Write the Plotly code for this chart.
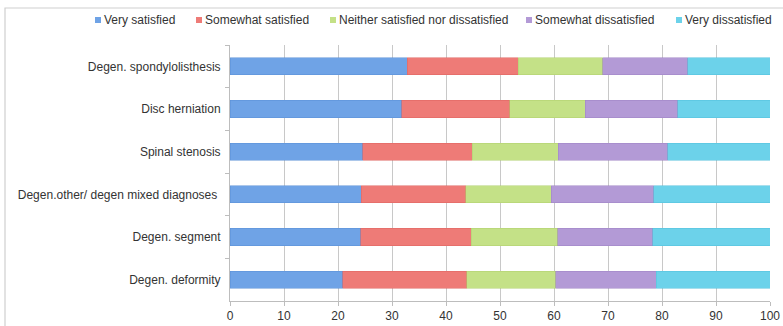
import plotly.graph_objects as go

categories = ["Degen. spondylolisthesis", "Disc herniation", "Spinal stenosis",
              "Degen.other/ degen mixed diagnoses ", "Degen. segment", "Degen. deformity"]
series_names = ["Very satisfied", "Somewhat satisfied", "Neither satisfied nor dissatisfied",
                "Somewhat dissatisfied", "Very dissatisfied"]
very_satisfied = [32.8, 31.8, 24.6, 24.3, 24.2, 20.9]
somewhat_satisfied = [20.6, 20.0, 20.3, 19.4, 20.5, 22.9]
neither = [15.6, 14.0, 15.9, 15.8, 16.0, 16.5]
somewhat_dissatisfied = [15.8, 17.1, 20.3, 19.0, 17.6, 18.6]
very_dissatisfied = [15.2, 17.1, 18.9, 21.5, 21.7, 21.1]
x_ticks = [0, 10, 20, 30, 40, 50, 60, 70, 80, 90, 100]

series_values = [very_satisfied, somewhat_satisfied, neither, somewhat_dissatisfied, very_dissatisfied]
colors = ["#6fa3e6", "#ee7b77", "#c4e187", "#b39ad6", "#6cd2ea"]
line_colors = ["#5a8fd6", "#dd6460", "#afcf6e", "#9d82c4", "#52c0dc"]

W, H = 783, 326
ML, MR, MT, MB = 230, 13, 45, 25
PW, PH = W - ML - MR, H - MT - MB

def px_x(p):
    return (p - ML) / PW

def px_y(p):
    return (H - MB - p) / PH

fig = go.Figure()
for name, vals, c, lc in zip(series_names, series_values, colors, line_colors):
    fig.add_trace(go.Bar(
        y=categories, x=vals, name=name, orientation="h",
        marker=dict(color=c, line=dict(color=lc, width=0.5)),
        showlegend=False,
    ))

font = dict(family="Liberation Sans, Arial, sans-serif", size=12, color="#333333")

# manual legend
legend_marker_px = [98, 199, 333, 529, 679]
shapes = []
annotations = []
for name, c, mx in zip(series_names, colors, legend_marker_px):
    shapes.append(dict(type="rect", xref="paper", yref="paper",
                       x0=px_x(mx - 3), x1=px_x(mx + 3), y0=px_y(23), y1=px_y(17),
                       fillcolor=c, line=dict(width=0)))
    annotations.append(dict(text=name, xref="paper", yref="paper",
                            x=px_x(mx + 4), y=px_y(20), xanchor="left", yanchor="middle",
                            showarrow=False, font=font))

# chart border
shapes.append(dict(type="rect", xref="paper", yref="paper",
                   x0=px_x(5), x1=px_x(800), y0=px_y(340), y1=px_y(8),
                   line=dict(color="#cfcfcf", width=1.2), fillcolor="rgba(0,0,0,0)", layer="below"))

fig.update_layout(
    template="none",
    barmode="stack",
    bargap=0.6,
    width=W, height=H,
    margin=dict(l=ML, r=MR, t=MT, b=MB, autoexpand=False),
    paper_bgcolor="white", plot_bgcolor="white",
    font=font,
    shapes=shapes,
    annotations=annotations,
    xaxis=dict(range=[0, 100], tickvals=x_ticks, showgrid=True, gridcolor="#c8c8c8", gridwidth=1.2,
               showline=True, linecolor="#bdbdbd", ticks="outside", ticklen=4, tickcolor="#bdbdbd",
               zeroline=False, tickfont=font, automargin=False),
    yaxis=dict(autorange="reversed", showline=True, linecolor="#bdbdbd", ticks="outside",
               ticklen=4, tickcolor="#bdbdbd", tickson="boundaries", showgrid=False,
               ticklabelstandoff=6, tickfont=font, automargin=False),
)

fig.write_html("out.html")
